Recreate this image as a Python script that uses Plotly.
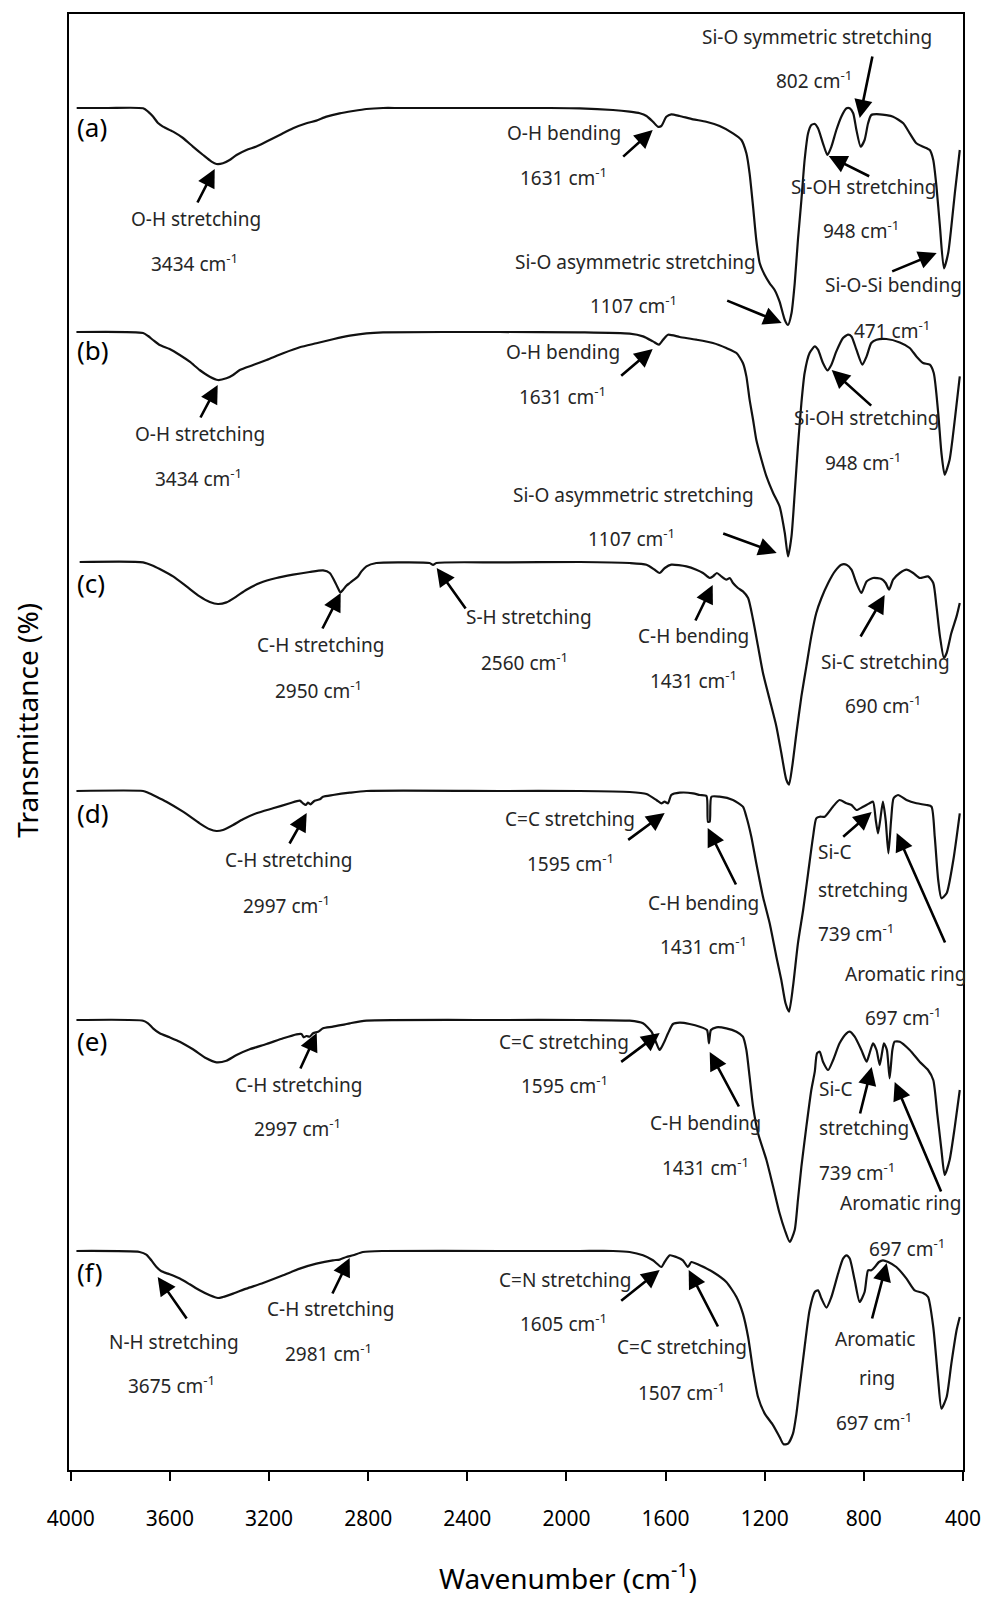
import plotly.graph_objects as go

# ---------------- data (wavenumber cm-1, transmittance drop below each baseline, a.u.) ----------------
wn_a = [3976, 3850, 3708, 3688, 3668, 3648, 3628, 3587, 3547, 3507, 3466, 3432, 3412, 3386, 3359, 3331, 3291,
        3251, 3210, 3157, 3103, 3049, 3009, 2968, 2915, 2861, 2807, 2740, 2673, 2350, 2081, 1946, 1812, 1745,
        1704, 1677, 1651, 1631, 1617, 1597, 1577, 1543, 1489, 1436, 1382, 1328, 1294, 1274, 1261, 1247, 1234,
        1220, 1200, 1180, 1160, 1140, 1119, 1106, 1092, 1079, 1066, 1052, 1039, 1025, 1012, 998, 985, 965,
        947, 931, 911, 891, 870, 857, 843, 830, 813, 797, 783, 770, 736, 682, 641, 615, 588, 561, 534, 520,
        507, 493, 477, 460, 447, 433, 413]
dr_a = [0, 0, 0.3, 3.6, 8.6, 15, 18.6, 23.6, 30, 38.6, 47, 53.6, 56, 55.3, 52, 47, 42, 38.6, 33.6, 27, 20.3,
        15.3, 12.6, 8.6, 5.3, 3, 1, 0, 0, 0, 0, 0.3, 2, 3.7, 5.3, 8, 13.7, 18.7, 18, 8.7, 6.3, 8, 11.3, 13.7,
        18, 25.3, 32, 45.3, 65.3, 98.7, 132, 155.3, 167, 175.3, 182, 193.7, 212, 217, 205.3, 175.3, 132, 92, 52,
        25.3, 17, 16, 20.3, 35.3, 47, 38.7, 22, 8.7, 0.3, 0.3, 5.3, 22, 38.7, 32, 15.3, 7, 6.3, 8.7, 15.3,
        25.3, 35.3, 38.7, 42, 52, 78.7, 118.7, 160.3, 145.3, 118.7, 85.3, 42]

wn_b = [3977, 3708, 3688, 3668, 3641, 3601, 3560, 3520, 3480, 3439, 3406, 3372, 3345, 3318, 3264, 3210, 3143,
        3076, 3009, 2942, 2874, 2807, 2740, 2269, 1946, 1745, 1691, 1651, 1627, 1610, 1590, 1543, 1476, 1409,
        1355, 1314, 1288, 1274, 1261, 1247, 1234, 1213, 1193, 1166, 1140, 1119, 1106, 1092, 1079, 1066, 1052,
        1039, 1019, 998, 985, 965, 947, 931, 911, 884, 864, 850, 830, 806, 789, 770, 749, 709, 655, 615, 588,
        561, 534, 518, 500, 487, 474, 454, 433, 413]
dr_b = [0, 1, 4, 8, 13, 17, 23, 29.7, 38, 44.7, 48, 46.3, 43, 38, 33, 28, 21.3, 15.3, 11.3, 7.3, 3.7, 1.3, 0.3,
        0, 0.4, 1.7, 4.4, 9.4, 12.7, 7.7, 2.7, 5, 7.7, 11, 16, 21, 31, 44.4, 67.7, 87.7, 107.7, 127.7, 144.4,
        161, 174.4, 201, 224.4, 204.4, 161, 114.4, 71, 41, 21, 14.4, 17.7, 31, 38.4, 32.7, 19.4, 6, 2.7, 4.4,
        17.7, 32.7, 24.4, 11, 7.7, 7, 10.4, 16, 24.4, 31, 32.7, 41, 81, 121, 142.7, 127.7, 87.7, 44.4]

wn_c = [3964, 3708, 3668, 3641, 3587, 3533, 3480, 3439, 3406, 3372, 3331, 3291, 3237, 3170, 3103, 3036, 2982,
        2955, 2935, 2922, 2912, 2901, 2888, 2874, 2861, 2841, 2827, 2807, 2767, 2673, 2552, 2538, 2525, 2269,
        1946, 1745, 1677, 1644, 1624, 1603, 1577, 1516, 1476, 1449, 1422, 1409, 1393, 1375, 1355, 1341, 1328,
        1308, 1288, 1267, 1247, 1227, 1207, 1180, 1153, 1133, 1113, 1102, 1089, 1072, 1052, 1032, 1012, 992,
        971, 944, 917, 891, 870, 850, 830, 810, 789, 763, 729, 712, 698, 682, 655, 628, 601, 575, 541, 520,
        507, 493, 477, 466, 447, 426, 413]
dr_c = [0, 0.3, 3.7, 7, 14.4, 24.4, 34.4, 40, 42, 40.4, 34.4, 27.7, 21, 16, 12.7, 10, 8.4, 11, 19.4, 26, 30.4,
        27.7, 23.7, 21, 18.4, 14.4, 9.4, 4.4, 1, 0.4, 1, 3, 1, 0.4, 0, 1, 2.7, 7.7, 11, 6, 2.7, 4.4, 7.7, 11,
        16, 14.4, 11, 14.4, 17.7, 16, 21, 26, 29.4, 36, 57.7, 84.4, 111, 137.7, 164.4, 191, 217.7, 222.7,
        204.4, 171, 134.4, 104.4, 74.4, 51, 36, 21, 9.4, 2.7, 2.7, 7.7, 21, 31, 19.4, 16, 17, 21, 27.7, 17.7,
        11, 7.7, 11, 16, 14.4, 21, 44.4, 74.4, 96, 91, 71, 54.4, 41]

wn_d = [3977, 3708, 3688, 3654, 3614, 3547, 3480, 3439, 3412, 3386, 3345, 3305, 3251, 3184, 3116, 3076, 3063,
        3052, 3043, 3033, 3016, 2995, 2982, 2942, 2874, 2807, 2269, 1946, 1745, 1677, 1637, 1617, 1604, 1590,
        1577, 1543, 1489, 1462, 1435, 1429, 1422, 1415, 1382, 1328, 1288, 1274, 1254, 1234, 1207, 1180, 1153,
        1133, 1116, 1102, 1086, 1066, 1045, 1025, 1005, 992, 978, 958, 925, 898, 870, 850, 830, 803, 777, 763,
        752, 743, 734, 723, 712, 701, 690, 680, 662, 628, 588, 547, 527, 514, 500, 487, 466, 439, 413]
dr_d = [0, 0, 1.7, 5.7, 10.7, 20.7, 32.3, 38.3, 40, 39, 34, 28.3, 22.3, 17.3, 12.3, 9.7, 12.3, 14, 11.7, 13.3,
        9.7, 8.3, 5.7, 4, 1.7, 0, 0, 0, 1, 3, 9, 12.3, 10.7, 12.3, 4, 1.7, 2.3, 4, 5, 30.7, 30.7, 5.7, 5.7, 9,
        15.7, 25.7, 45.7, 72.3, 105.7, 132.3, 165.7, 189, 212.3, 220.7, 195.7, 152.3, 119, 82.3, 45.7, 27.3,
        25.7, 25.7, 15.7, 9, 12.3, 14, 19, 15.7, 12.3, 10.7, 29, 42.3, 29, 10.7, 29, 62.3, 29, 7.3, 4, 9, 12.3,
        14, 15.7, 45.7, 89, 107.3, 102.3, 69, 22.3]

wn_e = [3977, 3708, 3688, 3668, 3641, 3601, 3560, 3507, 3453, 3412, 3372, 3331, 3278, 3210, 3143, 3089, 3069,
        3060, 3049, 3036, 3022, 3002, 2982, 2942, 2874, 2807, 2269, 1946, 1745, 1691, 1657, 1637, 1624, 1608,
        1590, 1570, 1543, 1503, 1462, 1433, 1425, 1417, 1395, 1355, 1314, 1288, 1274, 1261, 1247, 1227, 1193,
        1166, 1140, 1119, 1099, 1079, 1066, 1052, 1032, 1012, 998, 989, 978, 965, 944, 924, 898, 870, 857, 837,
        810, 789, 777, 763, 749, 736, 727, 719, 707, 696, 685, 676, 655, 615, 575, 541, 520, 504, 487, 474, 454,
        433, 413]
dr_e = [0, 0.7, 3.3, 8.3, 13.3, 17.3, 21.7, 29.3, 38.3, 42.3, 40.7, 35, 29.3, 24, 18.3, 14.3, 14, 17.3, 16,
        16.7, 13.3, 11.7, 8.3, 6.7, 3.3, 0.7, 0, 0, 0.7, 3.3, 11.7, 23.3, 30, 23.3, 13.3, 4, 2.7, 4, 6.7, 10,
        23.3, 10, 7.3, 8.3, 11.7, 16.7, 30, 56.7, 86.7, 113.3, 140, 166.7, 193.3, 210, 222, 210, 180, 146.7,
        106.7, 70, 51.7, 33.3, 31.7, 41.7, 50, 40, 23.3, 13.3, 11.7, 16.7, 30, 41.7, 33.3, 23.3, 30, 45, 33.3,
        23.3, 30, 58.3, 30, 21.7, 21.7, 30, 41.7, 50, 60, 93.3, 130, 155, 140, 106.7, 70]

wn_f = [3977, 3722, 3695, 3675, 3654, 3634, 3601, 3560, 3520, 3480, 3439, 3406, 3386, 3345, 3291, 3224, 3143,
        3076, 3009, 2942, 2915, 2888, 2861, 2821, 2740, 2269, 1946, 1812, 1745, 1691, 1651, 1617, 1604, 1583,
        1557, 1530, 1510, 1496, 1462, 1409, 1355, 1314, 1288, 1267, 1247, 1227, 1200, 1166, 1140, 1124, 1106,
        1086, 1072, 1059, 1039, 1019, 998, 985, 971, 951, 931, 904, 884, 870, 857, 837, 817, 797, 783, 770, 756,
        739, 723, 702, 669, 628, 595, 561, 541, 520, 500, 487, 466, 447, 426, 413]
dr_f = [0, 1, 3.6, 9.3, 16, 20.3, 23.3, 27.6, 33.3, 39.3, 44.3, 47, 46, 42.6, 37.6, 32, 24.3, 17.6, 12.6, 9.3,
        8.6, 6, 4.3, 1, 0, 0, 0, 0, 1, 4.3, 9.3, 16, 11, 4.3, 6, 9.3, 16, 11, 14.3, 21, 31, 46, 62.6, 86, 119.3,
        146, 162.6, 174.3, 186, 193.3, 192.6, 182.6, 162.6, 136, 96, 59.3, 41, 39.3, 47.6, 56.6, 46, 22.6, 7.6,
        4.3, 7.6, 29.3, 51, 41, 19.3, 19.3, 16, 11, 9.3, 11, 16, 27.6, 39.3, 42, 46, 76, 129.3, 157.6, 146,
        112.6, 79.3, 66]

labels = ["(a)", "(b)", "(c)", "(d)", "(e)", "(f)"]
spectra = [(wn_a, dr_a), (wn_b, dr_b), (wn_c, dr_c), (wn_d, dr_d), (wn_e, dr_e), (wn_f, dr_f)]
tick_vals = [4000, 3600, 3200, 2800, 2400, 2000, 1600, 1200, 800, 400]

# ---------------- layout helpers ----------------
W, H = 986, 1601
PL, PR, PT, PB = 69.3, 963.3, 14, 1470
offsets = [1362, 1138, 908, 679, 450, 219]   # baseline position of each stacked spectrum


def px(x):
    return (x - PL) / (PR - PL)


def py(y):
    return (PB - y) / (PB - PT)


fig = go.Figure()
for (wn, dr), off in zip(spectra, offsets):
    fig.add_trace(go.Scatter(x=wn, y=[off - d for d in dr], mode="lines",
                             line=dict(color="#111111", width=2.2, shape="spline", smoothing=0.6),
                             showlegend=False, hoverinfo="skip"))

LBL = dict(family="Noto Sans, sans-serif", size=19, color="#262626")
anns = []


def txt(t, x, y, font=LBL, anchor="left", yanchor="middle"):
    anns.append(dict(text=t, x=px(x), y=py(y), xref="paper", yref="paper", xanchor=anchor,
                     yanchor=yanchor, showarrow=False, font=font))


def arrow(tail, tip):
    anns.append(dict(text="", x=px(tip[0]), y=py(tip[1]), xref="paper", yref="paper",
                     ax=tail[0] - tip[0], ay=tail[1] - tip[1], axref="pixel", ayref="pixel",
                     showarrow=True, arrowhead=2, arrowsize=1.4, arrowwidth=2.6, arrowcolor="#000000",
                     standoff=0, startstandoff=0))


cm = " cm<sup>-1</sup>"
texts = [
    ("O-H stretching", 129, 219), ("3434" + cm, 149, 263), ("O-H bending", 505, 133), ("1631" + cm, 518, 177),
    ("Si-O symmetric stretching", 700, 37), ("802" + cm, 774, 80), ("Si-OH stretching", 789, 187),
    ("948" + cm, 821, 230), ("Si-O asymmetric stretching", 513, 262), ("1107" + cm, 588, 305),
    ("Si-O-Si bending", 823, 285), ("471" + cm, 852, 330),
    ("O-H stretching", 133, 434), ("3434" + cm, 153, 478), ("O-H bending", 504, 352), ("1631" + cm, 517, 396),
    ("Si-OH stretching", 792, 418), ("948" + cm, 823, 462), ("Si-O asymmetric stretching", 511, 495),
    ("1107" + cm, 586, 538),
    ("C-H stretching", 255, 645), ("2950" + cm, 273, 690), ("S-H stretching", 464, 617), ("2560" + cm, 479, 662),
    ("C-H bending", 636, 636), ("1431" + cm, 648, 680), ("Si-C stretching", 819, 662), ("690" + cm, 843, 705),
    ("C-H stretching", 223, 860), ("2997" + cm, 241, 905), ("C=C stretching", 503, 819), ("1595" + cm, 525, 863),
    ("C-H bending", 646, 903), ("1431" + cm, 658, 946), ("Si-C", 816, 852), ("stretching", 816, 890),
    ("739" + cm, 816, 933), ("Aromatic ring", 843, 974), ("697" + cm, 863, 1017),
    ("C-H stretching", 233, 1085), ("2997" + cm, 252, 1128), ("C=C stretching", 497, 1042),
    ("1595" + cm, 519, 1085), ("C-H bending", 648, 1123), ("1431" + cm, 660, 1167), ("Si-C", 817, 1089),
    ("stretching", 817, 1128), ("739" + cm, 817, 1172), ("Aromatic ring", 838, 1203), ("697" + cm, 867, 1248),
    ("N-H stretching", 107, 1342), ("3675" + cm, 126, 1385), ("C-H stretching", 265, 1309),
    ("2981" + cm, 283, 1353), ("C=N stretching", 497, 1280), ("1605" + cm, 518, 1323),
    ("C=C stretching", 615, 1347), ("1507" + cm, 636, 1392), ("Aromatic", 833, 1339), ("ring", 857, 1378),
    ("697" + cm, 834, 1422),
]
for t, x, y in texts:
    txt(t, x, y)

arrows = [
    ((197, 204), (215, 169)), ((622, 158), (653, 130)), ((873, 55), (860, 118)), ((871, 177), (829, 156)),
    ((726, 300), (782, 323)), ((891, 272), (937, 253)),
    ((200, 419), (218, 385)), ((620, 377), (653, 349)), ((873, 407), (832, 370)), ((722, 533), (777, 553)),
    ((322, 630), (341, 593)), ((467, 610), (437, 568)), ((695, 622), (713, 585)), ((860, 638), (885, 595)),
    ((289, 845), (307, 813)), ((627, 841), (665, 813)), ((737, 886), (708, 828)), ((842, 838), (872, 812)),
    ((946, 944), (897, 833)),
    ((300, 1070), (317, 1033)), ((620, 1063), (660, 1033)), ((740, 1108), (710, 1052)),
    ((860, 1115), (872, 1067)), ((942, 1193), (895, 1082)),
    ((188, 1320), (158, 1277)), ((332, 1295), (350, 1258)), ((620, 1302), (660, 1270)),
    ((719, 1328), (689, 1270)), ((872, 1320), (887, 1263)),
]
for tail, tip in arrows:
    arrow(tail, tip)

PANEL = dict(family="Noto Sans, sans-serif", size=26, color="#000000")
for lab, y in zip(labels, [127, 350, 583, 813, 1041, 1272]):
    txt(lab, 75, y, font=PANEL)

TITLE = dict(family="Noto Sans, sans-serif", size=28, color="#000000")
txt("Wavenumber (cm<sup>-1</sup>)", 437, 1599, font=TITLE, yanchor="bottom")
anns.append(dict(text="Transmittance (%)", x=px(27), y=py(720), xref="paper", yref="paper",
                 textangle=-90, showarrow=False, xanchor="center", yanchor="middle", font=TITLE))

fig.update_layout(
    width=W, height=H, paper_bgcolor="white", plot_bgcolor="white",
    margin=dict(l=PL, r=W - PR, t=PT, b=H - PB, autoexpand=False),
    annotations=anns, showlegend=False,
    xaxis=dict(range=[4007, 400], tickvals=tick_vals, ticktext=[str(v) for v in tick_vals],
               ticks="outside", ticklen=9, tickwidth=2, tickcolor="black", showline=True, linewidth=2,
               linecolor="black", mirror=True, showgrid=False, zeroline=False, ticklabelstandoff=20,
               tickfont=dict(family="Noto Sans, sans-serif", size=21, color="black")),
    yaxis=dict(range=[0, PB - PT], showticklabels=False, ticks="", showline=True, linewidth=2,
               linecolor="black", mirror=True, showgrid=False, zeroline=False),
)

fig.write_html("out.html", config={"displayModeBar": False},
               post_script="document.body.style.margin='0';document.body.style.overflow='hidden';")
